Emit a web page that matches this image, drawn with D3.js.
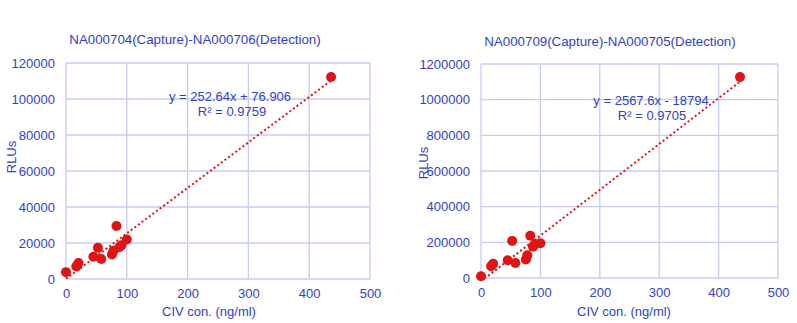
<!DOCTYPE html>
<html><head><meta charset="utf-8">
<script src="https://cdn.jsdelivr.net/npm/d3@7"></script>
<style>
body{margin:0;background:#fff;}
svg{display:block;font-family:"Liberation Sans",Arial,sans-serif;}
</style></head>
<body><svg id="c" width="797" height="323"></svg>
<script>
// Data
const conc = [0, 17, 20.5, 45, 52.5, 58, 75.5, 78, 83, 87.5, 91, 100, 436];
const rluA = [3800, 7000, 8900, 12400, 17300, 11100, 13600, 15700, 29400, 17600, 18700, 21900, 112200];
const rluB = [9600, 66000, 80000, 99500, 208000, 84000, 104000, 127000, 237000, 176000, 191000, 195000, 1127000];
const titles = ["NA000704(Capture)-NA000706(Detection)", "NA000709(Capture)-NA000705(Detection)"];
const xTicks = [0, 100, 200, 300, 400, 500];
const yTicksA = [0, 20000, 40000, 60000, 80000, 100000, 120000];
const yTicksB = [0, 200000, 400000, 600000, 800000, 1000000, 1200000];
const fits = [{m: 252.64, b: 76.906, eq: "y = 252.64x + 76.906", r2: "R² = 0.9759"},
              {m: 2567.6, b: -18794, eq: "y = 2567.6x - 18794", r2: "R² = 0.9705"}];

const TXT = "#2f41cf", GRID = "#c6ccf3", RED = "#e01414";
const svg = d3.select("#c");

const panels = [
  {L: 66, R: 370, T: 63, B: 279, y: rluA, yt: yTicksA, ymax: 120000, tx: 195, ty: 44,
   eqx: 230, eqy: 101, r2x: 232, r2y: 116, ylx: 11, yly: 157, xlx: 209, fit: fits[0], title: titles[0]},
  {L: 481, R: 778, T: 64, B: 278, y: rluB, yt: yTicksB, ymax: 1200000, tx: 610, ty: 46,
   eqx: 651, eqy: 105, r2x: 652, r2y: 120, ylx: 423, yly: 163, xlx: 624, fit: fits[1], title: titles[1]}
];

panels.forEach((p, i) => {
  const x = d3.scaleLinear().domain([0, 500]).range([p.L, p.R]);
  const y = d3.scaleLinear().domain([0, p.ymax]).range([p.B, p.T]);
  const g = svg.append("g");
  // grid
  g.selectAll(".vg").data(xTicks).join("line")
    .attr("x1", d => x(d)).attr("x2", d => x(d)).attr("y1", p.T).attr("y2", p.B)
    .attr("stroke", GRID).attr("stroke-width", 1.3);
  g.selectAll(".hg").data(p.yt).join("line")
    .attr("y1", d => y(d)).attr("y2", d => y(d)).attr("x1", p.L).attr("x2", p.R)
    .attr("stroke", GRID).attr("stroke-width", 1.3);
  // axes labels via d3 axes
  const ax = g.append("g").attr("transform", `translate(0,${p.B})`)
    .call(d3.axisBottom(x).tickValues(xTicks).tickSize(0).tickPadding(10).tickFormat(d3.format("d")));
  const ay = g.append("g").attr("transform", `translate(${p.L},0)`)
    .call(d3.axisLeft(y).tickValues(p.yt).tickSize(0).tickPadding(11).tickFormat(d3.format("d")));
  [ax, ay].forEach(a => {
    a.select(".domain").remove();
    a.selectAll("text").attr("fill", TXT).attr("font-size", 13)
      .attr("font-family", "Liberation Sans, Arial, sans-serif");
  });
  // title
  g.append("text").attr("x", p.tx).attr("y", p.ty).attr("text-anchor", "middle")
    .attr("fill", TXT).attr("font-size", 13.3).text(p.title);
  // axis titles
  g.append("text").attr("x", p.xlx).attr("y", 316).attr("text-anchor", "middle")
    .attr("fill", TXT).attr("font-size", 13).text("CIV con. (ng/ml)");
  g.append("text").attr("transform", `translate(${p.ylx + 5},${p.yly}) rotate(-90)`)
    .attr("text-anchor", "middle").attr("fill", TXT).attr("font-size", 13).text("RLUs");
  // trendline clipped to plot area
  const cid = "clip" + i;
  svg.append("clipPath").attr("id", cid).append("rect")
    .attr("x", p.L).attr("y", p.T).attr("width", p.R - p.L).attr("height", p.B - p.T);
  const x0 = d3.min(conc), x1 = d3.max(conc);
  g.append("line").attr("clip-path", `url(#${cid})`)
    .attr("x1", x(x0)).attr("y1", y(p.fit.m * x0 + p.fit.b))
    .attr("x2", x(x1)).attr("y2", y(p.fit.m * x1 + p.fit.b))
    .attr("stroke", RED).attr("stroke-width", 2).attr("stroke-dasharray", "2,2.5");
  // points
  g.selectAll(".pt").data(conc.map((c, k) => [c, p.y[k]])).join("circle")
    .attr("cx", d => x(d[0])).attr("cy", d => y(d[1])).attr("r", 5).attr("fill", RED);
  // equation
  g.append("text").attr("x", p.eqx).attr("y", p.eqy).attr("text-anchor", "middle")
    .attr("fill", TXT).attr("font-size", 13).text(p.fit.eq);
  g.append("text").attr("x", p.r2x).attr("y", p.r2y).attr("text-anchor", "middle")
    .attr("fill", TXT).attr("font-size", 13).text(p.fit.r2);
});
</script></body></html>
